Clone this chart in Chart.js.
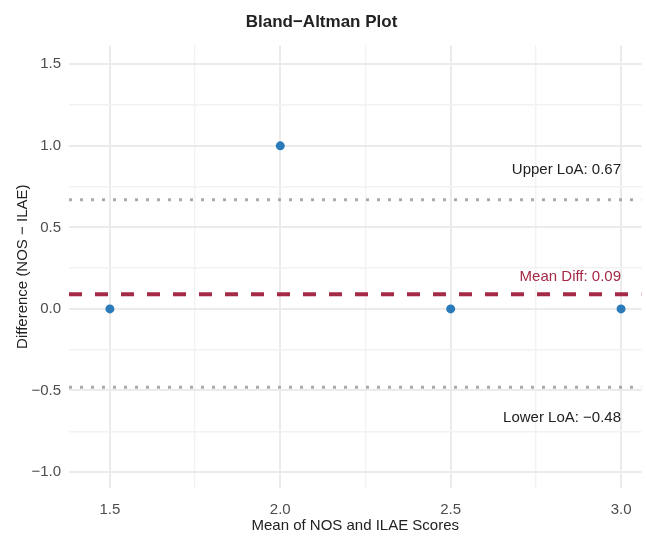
<!DOCTYPE html>
<html>
<head>
<meta charset="utf-8">
<script src="https://cdn.jsdelivr.net/npm/chart.js@4"></script>
<style>
  html, body { margin: 0; padding: 0; background: #ffffff; }
  canvas { display: block; }
</style>
</head>
<body>
<canvas id="bland-altman-chart" width="646" height="536"></canvas>
<script>
const MEANS = [1.5, 2.0, 2.5, 3.0];
const DIFFERENCES = [0, 1.0, 0, 0];
const MEAN_DIFF = 0.09;
const UPPER_LOA = 0.67;
const LOWER_LOA = -0.48;
const X_MIN = 1.38;
const X_MAX = 3.06;
const Y_MIN = -1.098;
const Y_MAX = 1.616;
const X_TICKS = [1.5, 1.75, 2.0, 2.25, 2.5, 2.75, 3.0];
const Y_TICKS = [-1.0, -0.75, -0.5, -0.25, 0, 0.25, 0.5, 0.75, 1.0, 1.25, 1.5];
const LABELS = [
    { text: 'Upper LoA: 0.67', x: 3.0, y: 0.855, color: '#222222' },
    { text: 'Mean Diff: 0.09', x: 3.0, y: 0.195, color: '#a52a45' },
    { text: 'Lower LoA: \u22120.48', x: 3.0, y: -0.67, color: '#222222' }
];

function hline(value, color, width, dash) {
    return {
        type: 'line',
        data: [{ x: X_MIN, y: value }, { x: X_MAX, y: value }],
        borderColor: color,
        borderWidth: width,
        borderDash: dash,
        pointRadius: 0,
        fill: false,
        order: 2
    };
}

const labelPlugin = {
    id: 'annotText',
    afterDatasetsDraw(chart) {
        const ctx = chart.ctx;
        const xs = chart.scales.x;
        const ys = chart.scales.y;
        ctx.save();
        ctx.font = '15px "Liberation Sans", Arial, sans-serif';
        ctx.textAlign = 'right';
        ctx.textBaseline = 'middle';
        LABELS.forEach(l => {
            ctx.fillStyle = l.color;
            ctx.fillText(l.text, xs.getPixelForValue(l.x), ys.getPixelForValue(l.y));
        });
        ctx.restore();
    }
};

function isMajor(v) {
    return Math.abs(v * 2 - Math.round(v * 2)) < 1e-6;
}

function fmt(v) {
    const s = Number(v).toFixed(1);
    return s.startsWith('-') ? '\u2212' + s.slice(1) : s;
}

new Chart(document.getElementById('bland-altman-chart'), {
    type: 'scatter',
    data: {
        datasets: [
            {
                type: 'scatter',
                data: MEANS.map((m, i) => ({ x: m, y: DIFFERENCES[i] })),
                backgroundColor: '#2b7bba',
                borderWidth: 0,
                pointRadius: 4.5,
                order: 1
            },
            hline(UPPER_LOA, '#aaaaaa', 3, [3, 8]),
            hline(LOWER_LOA, '#aaaaaa', 3, [3, 8]),
            hline(MEAN_DIFF, '#a52a45', 4, [13, 13])
        ]
    },
    options: {
        responsive: false,
        animation: false,
        layout: { padding: { top: 4, right: 3, left: 0, bottom: 0 } },
        plugins: {
            legend: { display: false },
            tooltip: { enabled: false },
            title: {
                display: true,
                text: 'Bland\u2212Altman Plot',
                color: '#222222',
                font: { family: '"Liberation Sans", Arial, sans-serif', size: 17, weight: 'bold' },
                padding: { top: 8, bottom: 13 }
            }
        },
        scales: {
            x: {
                type: 'linear',
                min: X_MIN,
                max: X_MAX,
                afterBuildTicks: axis => { axis.ticks = X_TICKS.map(v => ({ value: v })); },
                afterFit: axis => { axis.height = 48; },
                border: { display: false },
                grid: {
                    color: ctx => isMajor(ctx.tick.value) ? '#ebebeb' : '#f2f2f2',
                    lineWidth: ctx => isMajor(ctx.tick.value) ? 2 : 1.4,
                    drawTicks: false
                },
                ticks: {
                    color: '#4d4d4d',
                    padding: 13,
                    font: { family: '"Liberation Sans", Arial, sans-serif', size: 15 },
                    callback: v => isMajor(v) ? fmt(v) : ''
                },
                title: {
                    display: true,
                    text: 'Mean of NOS and ILAE Scores',
                    color: '#222222',
                    padding: { top: 0, bottom: 1 },
                    font: { family: '"Liberation Sans", Arial, sans-serif', size: 15 }
                }
            },
            y: {
                type: 'linear',
                min: Y_MIN,
                max: Y_MAX,
                afterBuildTicks: axis => { axis.ticks = Y_TICKS.map(v => ({ value: v })); },
                afterFit: axis => { axis.width = 69; },
                border: { display: false },
                grid: {
                    color: ctx => isMajor(ctx.tick.value) ? '#ebebeb' : '#f2f2f2',
                    lineWidth: ctx => isMajor(ctx.tick.value) ? 2 : 1.4,
                    drawTicks: false
                },
                ticks: {
                    color: '#4d4d4d',
                    padding: 8,
                    font: { family: '"Liberation Sans", Arial, sans-serif', size: 15 },
                    callback: v => isMajor(v) ? fmt(v) : ''
                },
                title: {
                    display: true,
                    text: 'Difference (NOS \u2212 ILAE)',
                    color: '#222222',
                    padding: { top: 14, bottom: 0 },
                    font: { family: '"Liberation Sans", Arial, sans-serif', size: 15 }
                }
            }
        }
    },
    plugins: [labelPlugin]
});
</script>
</body>
</html>
